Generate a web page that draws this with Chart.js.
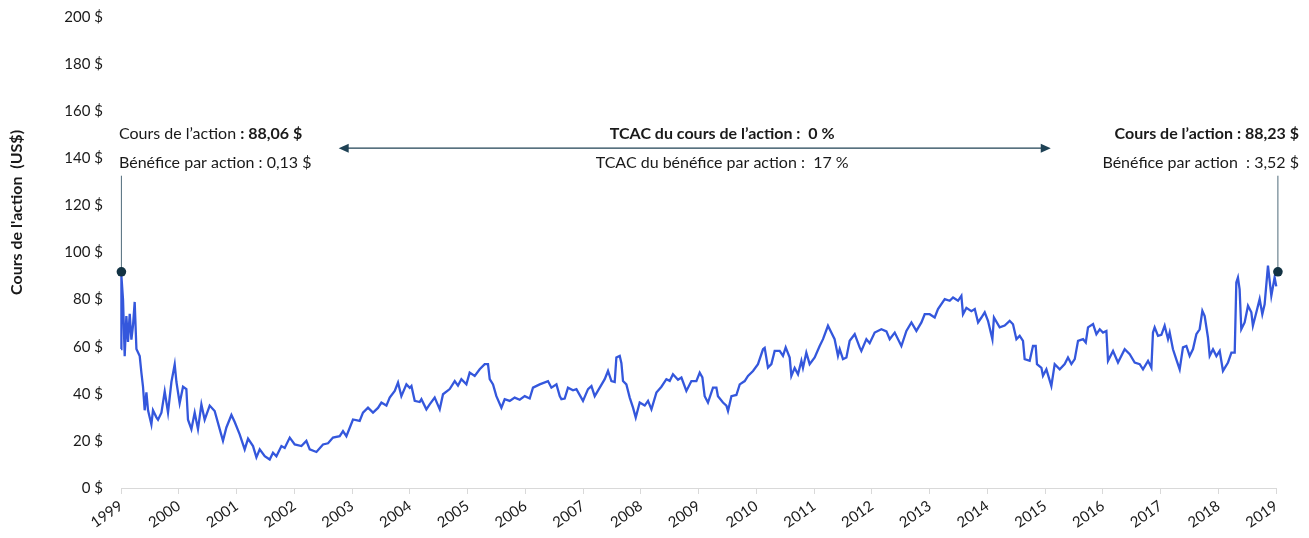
<!DOCTYPE html>
<html>
<head>
<meta charset="utf-8">
<script src="https://cdn.jsdelivr.net/npm/chart.js@4.4.1/dist/chart.umd.min.js"></script>
<style>
  body { margin: 0; background: #fff; }
  #wrap { width: 1309px; height: 538px; }
</style>
</head>
<body>
<div id="wrap"><canvas id="myChart"></canvas></div>
<script>
// share price (decimal year, US$)
const years = [
  1999.00, 1999.007, 1999.035, 1999.064, 1999.093, 1999.121, 1999.151, 1999.18, 1999.208, 1999.237,
  1999.267, 1999.324, 1999.353, 1999.381, 1999.41, 1999.44, 1999.468, 1999.526, 1999.554, 1999.613,
  1999.641, 1999.70, 1999.757, 1999.814, 1999.873, 1999.93, 1999.96, 2000.016, 2000.074, 2000.132,
  2000.16, 2000.219, 2000.276, 2000.333, 2000.392, 2000.449, 2000.536, 2000.622, 2000.709, 2000.766,
  2000.825, 2000.912, 2000.969, 2001.055, 2001.142, 2001.2, 2001.286, 2001.345, 2001.402, 2001.489,
  2001.575, 2001.632, 2001.691, 2001.778, 2001.835, 2001.922, 2002.008, 2002.124, 2002.21, 2002.268,
  2002.384, 2002.498, 2002.585, 2002.671, 2002.787, 2002.844, 2002.903, 2003.017, 2003.133, 2003.19,
  2003.277, 2003.364, 2003.45, 2003.509, 2003.596, 2003.653, 2003.74, 2003.797, 2003.855, 2003.942,
  2004.0, 2004.029, 2004.086, 2004.172, 2004.202, 2004.288, 2004.345, 2004.432, 2004.519, 2004.576,
  2004.692, 2004.779, 2004.835, 2004.894, 2004.981, 2005.038, 2005.125, 2005.211, 2005.298, 2005.355,
  2005.385, 2005.442, 2005.5, 2005.587, 2005.644, 2005.731, 2005.817, 2005.904, 2005.991, 2006.077,
  2006.134, 2006.25, 2006.394, 2006.453, 2006.54, 2006.597, 2006.626, 2006.683, 2006.74, 2006.827,
  2006.886, 2007.0, 2007.087, 2007.146, 2007.203, 2007.29, 2007.376, 2007.433, 2007.492, 2007.549,
  2007.578, 2007.636, 2007.665, 2007.693, 2007.751, 2007.809, 2007.866, 2007.913, 2007.982, 2008.069,
  2008.126, 2008.185, 2008.271, 2008.358, 2008.444, 2008.502, 2008.558, 2008.645, 2008.704, 2008.79,
  2008.877, 2008.963, 2009.021, 2009.067, 2009.107, 2009.164, 2009.251, 2009.31, 2009.337, 2009.424,
  2009.483, 2009.511, 2009.57, 2009.656, 2009.714, 2009.8, 2009.857, 2009.944, 2010.03, 2010.117,
  2010.146, 2010.203, 2010.262, 2010.319, 2010.406, 2010.463, 2010.51, 2010.579, 2010.608, 2010.665,
  2010.723, 2010.782, 2010.809, 2010.867, 2010.925, 2011.012, 2011.098, 2011.156, 2011.242, 2011.3,
  2011.357, 2011.415, 2011.445, 2011.502, 2011.561, 2011.618, 2011.705, 2011.791, 2011.82, 2011.907,
  2011.964, 2012.051, 2012.167, 2012.254, 2012.311, 2012.398, 2012.513, 2012.6, 2012.687, 2012.773,
  2012.86, 2012.917, 2013.003, 2013.09, 2013.147, 2013.264, 2013.35, 2013.408, 2013.494, 2013.552,
  2013.58, 2013.639, 2013.725, 2013.784, 2013.841, 2013.899, 2013.956, 2014.013, 2014.089, 2014.116,
  2014.215, 2014.302, 2014.388, 2014.446, 2014.505, 2014.562, 2014.619, 2014.648, 2014.735, 2014.792,
  2014.839, 2014.861, 2014.938, 2014.965, 2015.024, 2015.11, 2015.168, 2015.255, 2015.341, 2015.398,
  2015.457, 2015.515, 2015.572, 2015.659, 2015.706, 2015.745, 2015.832, 2015.89, 2015.948, 2016.004,
  2016.063, 2016.091, 2016.178, 2016.264, 2016.38, 2016.467, 2016.553, 2016.64, 2016.697, 2016.784,
  2016.842, 2016.87, 2016.899, 2016.957, 2017.015, 2017.072, 2017.13, 2017.159, 2017.216, 2017.275,
  2017.332, 2017.389, 2017.448, 2017.505, 2017.563, 2017.621, 2017.678, 2017.725, 2017.765, 2017.822,
  2017.852, 2017.909, 2017.968, 2018.025, 2018.082, 2018.169, 2018.228, 2018.285, 2018.313, 2018.341,
  2018.37, 2018.399, 2018.457, 2018.515, 2018.573, 2018.6, 2018.66, 2018.717, 2018.763, 2018.803,
  2018.861, 2018.919, 2018.976, 2019.005, 2019.033
];
const prices = [
  59, 90, 80, 56, 73, 62, 74, 63, 69, 79,
  59, 56, 49, 43, 33, 40.6, 33, 27, 33, 30,
  29, 32, 41, 32, 45, 52.5, 45, 36, 43, 42,
  29, 25, 32, 25, 35.5, 29, 35, 32.7, 25, 20,
  25.7, 31, 28, 22.8, 16.4, 21, 17.8, 13, 16.4, 13.5,
  12.1, 15, 13.5, 17.8, 17, 21.4, 18.5, 17.8, 20, 16.4,
  15.3, 18.5, 19, 21.4, 22, 24.2, 22, 29.1, 28.5, 32,
  34.1, 32, 34, 36.3, 35, 38.4, 41.2, 44.8, 39, 44,
  42.5, 43.3, 37, 36.5, 37.7, 33.4, 35.5, 38.4, 33.4, 39.8,
  42, 45.4, 43.5, 46.2, 44, 49, 47.6, 50.4, 52.6, 52.6,
  46.2, 44, 39, 34.1, 37.7, 37, 38.4, 37.5, 39, 38,
  42.6, 44, 45.4, 42.6, 44, 39, 37.7, 38, 42.6, 41.5,
  42, 37, 42, 43.3, 39, 42.6, 46.2, 49.7, 45.4, 45,
  55.4, 56.1, 53, 45.4, 44, 38.4, 34.1, 29.9, 36.3, 35,
  37, 33.4, 40.5, 43, 46.2, 45.5, 48.3, 46, 46.9, 41.2,
  45.4, 45.4, 49, 47, 39, 36.3, 42.6, 42.6, 39, 36.3,
  35, 32.7, 39, 39.5, 44, 45.4, 47.6, 49.7, 52.6, 58.9,
  59.5, 51.1, 52.6, 58.2, 58.2, 56.1, 59.7, 55.4, 47.6, 51,
  48.3, 54, 51, 57.5, 52.6, 55.4, 60.3, 63.2, 68.9, 66,
  63.2, 56.1, 59, 54.7, 55.4, 62.5, 65.3, 59.7, 58.2, 63.2,
  61.5, 66, 67.4, 66.5, 63.2, 66, 60.3, 66.7, 70.3, 66.7,
  70.3, 73.8, 73.8, 72.4, 76, 80.2, 79.5, 80.9, 79.5, 81.6,
  73.8, 76.5, 75.1, 76, 70.3, 72.4, 74.6, 71, 63.2, 72.4,
  68.2, 69, 71, 69.5, 63.2, 64.6, 62.5, 54.7, 54, 60.3,
  60.3, 52.6, 51, 47.6, 50.4, 43.3, 52.6, 50.4, 52.6, 55.4,
  52.6, 54.7, 62.5, 63.2, 61.8, 68.2, 69.6, 65.3, 67.4, 66,
  66.7, 54, 58.2, 53.3, 58.9, 56.8, 53.3, 52.6, 50.4, 54,
  51.1, 66, 68.2, 64.6, 65, 68.9, 63.2, 66, 58.9, 54.5,
  50.4, 59.7, 60.3, 56.1, 59, 65.3, 67.4, 75.2, 73, 63.9,
  56.1, 58.9, 56, 58.2, 49.7, 53.3, 57.5, 57.5, 87.3, 89.4,
  84.4, 67.4, 70.3, 77.4, 74.6, 68.9, 74.6, 80.2, 73.8, 78,
  94.4, 81.6, 89.4, 85.6, 89.4
];

const tickYears = [1999, 2000, 2001, 2002, 2003, 2004, 2005, 2006, 2007, 2008, 2009,
  2010, 2011, 2012, 2013, 2014, 2015, 2016, 2017, 2018, 2019];
const yTicks = [0, 20, 40, 60, 80, 100, 120, 140, 160, 180, 200];

// start / end markers
const markerYears = [1999.007, 2019.033];
const markerPrices = [91.8, 91.8];

const TEXT = '#1a1a1a';
const DARK = '#123243';
const FONT = 'Lato, "Noto Sans", sans-serif';

function drawRuns(ctx, runs, x, y, align) {
  let total = 0;
  runs.forEach(r => { ctx.font = r[1] + ' 16px ' + FONT; total += ctx.measureText(r[0]).width; });
  let cx = align === 'right' ? x - total : align === 'center' ? x - total / 2 : x;
  ctx.textAlign = 'left';
  ctx.textBaseline = 'middle';
  runs.forEach(r => {
    ctx.font = r[1] + ' 16px ' + FONT;
    ctx.fillText(r[0], cx, y);
    cx += ctx.measureText(r[0]).width;
  });
}

function arrowHead(ctx, x, y, dir) {
  ctx.beginPath();
  ctx.moveTo(x, y);
  ctx.lineTo(x - dir * 10, y - 4.5);
  ctx.lineTo(x - dir * 10, y + 4.5);
  ctx.closePath();
  ctx.fill();
}

const notes = {
  id: 'notes',
  afterDatasetsDraw(chart) {
    const ctx = chart.ctx;
    const xs = chart.scales.x, ys = chart.scales.y;
    const area = chart.chartArea;
    const yLine1 = ys.getPixelForValue(150.5);
    const yArrow = ys.getPixelForValue(144.3);
    const yLine2 = ys.getPixelForValue(138.2);
    const yLeaderTop = ys.getPixelForValue(132.6);
    ctx.save();

    // leader lines from the markers up to the text
    ctx.strokeStyle = '#4f6b7a';
    ctx.lineWidth = 1;
    markerYears.forEach((yr, i) => {
      const px = xs.getPixelForValue(yr);
      ctx.beginPath();
      ctx.moveTo(px, ys.getPixelForValue(markerPrices[i]));
      ctx.lineTo(px, yLeaderTop);
      ctx.stroke();
    });
    ctx.fillStyle = DARK;
    markerYears.forEach((yr, i) => {
      ctx.beginPath();
      ctx.arc(xs.getPixelForValue(yr), ys.getPixelForValue(markerPrices[i]), 4.8, 0, Math.PI * 2);
      ctx.fill();
    });

    // double arrow
    const ax1 = xs.getPixelForValue(2002.77), ax2 = xs.getPixelForValue(2015.1);
    ctx.strokeStyle = '#1f4255';
    ctx.fillStyle = '#1f4255';
    ctx.lineWidth = 1.3;
    ctx.beginPath();
    ctx.moveTo(ax1 + 4, yArrow);
    ctx.lineTo(ax2 - 4, yArrow);
    ctx.stroke();
    arrowHead(ctx, ax1, yArrow, -1);
    arrowHead(ctx, ax2, yArrow, 1);

    ctx.fillStyle = TEXT;
    const lx = area.left - 2;
    drawRuns(ctx, [['Cours de l\u2019action ', 'normal'], [': 88,06 $', 'bold']], lx, yLine1, 'left');
    drawRuns(ctx, [['B\u00e9n\u00e9fice par action : 0,13 $', 'normal']], lx, yLine2, 'left');

    const cx = xs.getPixelForValue(2009.41);
    drawRuns(ctx, [['TCAC du cours de l\u2019action :  0 %', 'bold']], cx, yLine1, 'center');
    drawRuns(ctx, [['TCAC du b\u00e9n\u00e9fice par action :  17 %', 'normal']], cx, yLine2, 'center');

    const rx = area.right + 23;
    drawRuns(ctx, [['Cours de l\u2019action : 88,23 $', 'bold']], rx, yLine1, 'right');
    drawRuns(ctx, [['B\u00e9n\u00e9fice par action  : 3,52 $', 'normal']], rx, yLine2, 'right');

    // y axis title
    ctx.translate(17, ys.getPixelForValue(117));
    ctx.rotate(-Math.PI / 2);
    ctx.font = 'bold 16px ' + FONT;
    ctx.textAlign = 'center';
    ctx.textBaseline = 'middle';
    ctx.fillText('Cours de l\'action  (US$)', 0, 0);
    ctx.restore();
  }
};

const CHART = document.getElementById('myChart');
new Chart(CHART, {
  type: 'line',
  data: {
    datasets: [{
      label: 'Cours',
      data: years.map((yr, i) => ({ x: yr, y: prices[i] })),
      borderColor: '#3457dc',
      borderWidth: 2.3,
      pointRadius: 0,
      tension: 0,
      clip: 8
    }]
  },
  options: {
    responsive: true,
    maintainAspectRatio: false,
    animation: false,
    layout: { padding: { top: 17, right: 33, left: 0, bottom: 0 } },
    plugins: { legend: { display: false }, tooltip: { enabled: false } },
    scales: {
      x: {
        type: 'linear',
        min: 1999,
        max: 2019,
        afterBuildTicks: s => { s.ticks = tickYears.map(v => ({ value: v })); },
        afterFit: s => { s.height = 50; },
        grid: { drawOnChartArea: false, drawTicks: true, tickLength: 6, color: '#d9d9d9' },
        border: { color: '#d9d9d9', width: 1 },
        ticks: {
          autoSkip: false,
          minRotation: 35,
          maxRotation: 35,
          padding: 3,
          color: TEXT,
          font: { family: FONT, size: 15 },
          callback: v => String(v)
        }
      },
      y: {
        min: 0,
        max: 200,
        afterBuildTicks: s => { s.ticks = yTicks.map(v => ({ value: v })); },
        afterFit: s => { s.width = 121; s.paddingTop = 0; s.paddingBottom = 0; },
        grid: { display: false, drawTicks: false },
        border: { display: false },
        ticks: {
          padding: 18,
          color: TEXT,
          font: { family: FONT, size: 15 },
          callback: v => v + ' $'
        }
      }
    }
  },
  plugins: [notes]
});
</script>
</body>
</html>
